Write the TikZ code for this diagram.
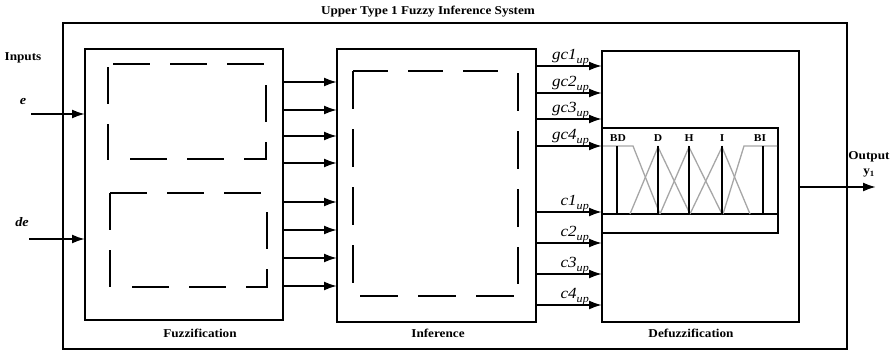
\documentclass[tikz,border=0pt]{standalone}
\usepackage{fontspec}
\setmainfont{Liberation Serif}[FakeStretch=1.1]
\usetikzlibrary{arrows.meta}
\newcommand{\lowsub}[1]{\raisebox{-3.8pt}{\fontsize{11}{11}\selectfont #1}}
\begin{document}
\begin{tikzpicture}[x=1pt,y=-1pt,
  box/.style={draw, line width=2pt, inner sep=0pt, outer sep=0pt},
  arr/.style={line width=2pt, -{Latex[length=13pt,width=9pt]}},
  dsh/.style={line width=2pt},
  lbl/.style={font=\bfseries\fontsize{12}{14}\selectfont, inner sep=0pt},
  sig/.style={font=\itshape\fontsize{15.5}{17}\selectfont, anchor=south east, inner sep=0pt},
  inl/.style={font=\bfseries\itshape\fontsize{13}{15}\selectfont, inner sep=0pt},
  mfl/.style={font=\bfseries\fontsize{10.5}{12}\selectfont, inner sep=0pt},
  mfg/.style={draw=black!35, line width=1.3pt},
  mfb/.style={draw=black, line width=2pt}]
\useasboundingbox (0,0) rectangle (896,351);

% title
\node[lbl] (title) at (428,12) {Upper Type 1 Fuzzy Inference System};
% outer box
\node[box, minimum width=784pt, minimum height=326pt] (outer) at (455,186) {};
% main boxes
\node[box, minimum width=198pt, minimum height=271pt] (fuzz) at (184,184.5) {};
\node[box, minimum width=199pt, minimum height=273pt] (inf) at (436.5,185.5) {};
\node[box, minimum width=197pt, minimum height=271pt] (defuzz) at (700.5,186.5) {};
\node[lbl] (fuzzl) at (200,333) {Fuzzification};
\node[lbl] (infl) at (438,333) {Inference};
\node[lbl] (defl) at (691,333) {Defuzzification};

% dashed boxes in fuzzification (upper)
\draw[dsh, dash pattern=on 37pt off 20pt] (113,64) -- (266,64);
\draw[dsh, dash pattern=on 37pt off 20pt] (108,67) -- (108,160);
\draw[dsh, dash pattern=on 37pt off 20pt] (266,85) -- (266,159);
\draw[dsh, dash pattern=on 37pt off 20pt] (130,159) -- (267,159);
% (lower)
\draw[dsh, dash pattern=on 37pt off 20pt] (110,193) -- (267,193);
\draw[dsh, dash pattern=on 37pt off 20pt] (110,193) -- (110,287);
\draw[dsh, dash pattern=on 37pt off 20pt] (267,212) -- (267,287);
\draw[dsh, dash pattern=on 37pt off 20pt] (132,287) -- (268,287);
% dashed box in inference
\draw[dsh, dash pattern=on 35pt off 20pt] (353,71) -- (500,71);
\draw[dsh, dash pattern=on 38pt off 20pt] (353,71) -- (353,284);
\draw[dsh, dash pattern=on 38pt off 20pt] (518,73) -- (518,284);
\draw[dsh, dash pattern=on 38pt off 20pt] (360,296) -- (514,296);

% inputs
\node[lbl] (inputs) at (23,58) {Inputs};
\node[inl] (el) at (23,101) {e};
\node[inl] (del) at (22,222) {de};
\coordinate (ein) at (31,114);
\coordinate (dein) at (29,239);
\draw[arr] (ein) -- (fuzz.west |- ein);
\draw[arr] (dein) -- (fuzz.west |- dein);

% fuzzification -> inference
\foreach \yy in {82,110,136,163,202,230,258,286}{
  \draw[arr] (fuzz.east |- 0,\yy) -- (inf.west |- 0,\yy);
}

% inference -> defuzzification
\foreach \yy/\tx in {66/gc1,93/gc2,119/gc3,146/gc4,212/c1,243/c2,274/c3,305/c4}{
  \draw[arr] (inf.east |- 0,\yy) -- (defuzz.west |- 0,\yy);
  \node[sig] at (589,\yy) {\tx\lowsub{up}};
}

% membership function box
\node[box, minimum width=176pt, minimum height=105pt] (mf) at (690,180.5) {};
\draw[line width=2pt] (mf.west |- 0,214) -- (mf.east |- 0,214);
\draw[mfg] (603,146) -- (633,146) -- (660,214);
\draw[mfg] (630,214) -- (658,147) -- (690,214);
\draw[mfg] (660,214) -- (689,147) -- (722,214);
\draw[mfg] (690,214) -- (722,147) -- (750,214);
\draw[mfg] (723,214) -- (744,146) -- (777,146);
\foreach \xx in {617,658,689,722,763}{
  \draw[mfb] (\xx,146) -- (\xx,214);
}
\node[mfl] (bd) at (618,138) {BD};
\node[mfl] (d) at (658,138) {D};
\node[mfl] (h) at (689,138) {H};
\node[mfl] (i) at (722,138) {I};
\node[mfl] (bi) at (760,138) {BI};

% output
\coordinate (yout) at (876,187);
\draw[arr] (defuzz.east |- yout) -- (yout);
\node[lbl] (outl) at (869,157) {Output};
\node[lbl] (y1) at (869,173) {y\textsubscript{1}};
\end{tikzpicture}
\end{document}
